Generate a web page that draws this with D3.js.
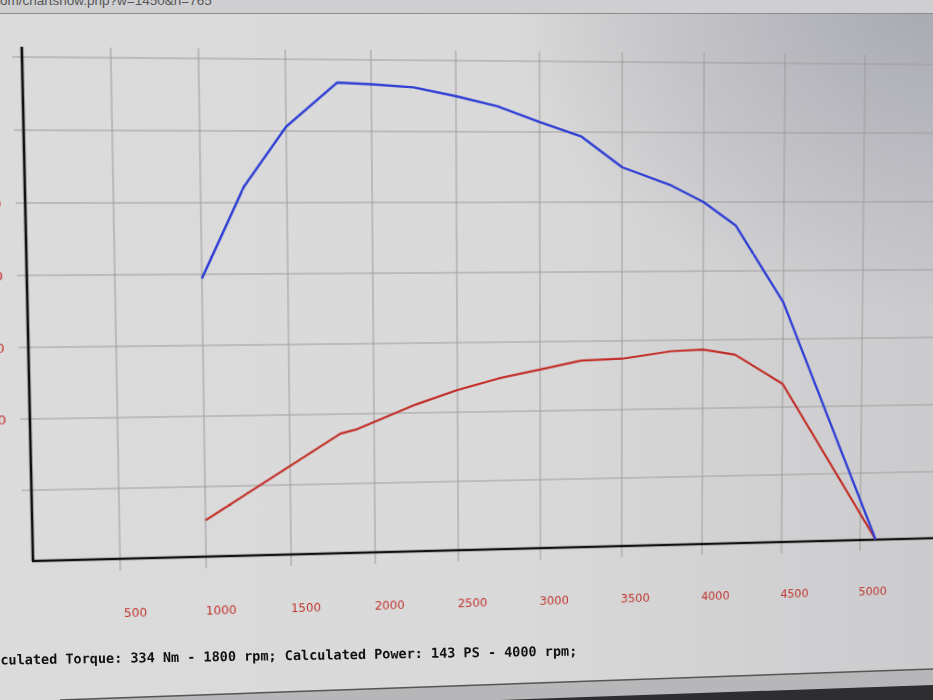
<!DOCTYPE html>
<html><head><meta charset="utf-8">
<script src="https://cdn.jsdelivr.net/npm/d3@7"></script>
<style>
html,body{margin:0;padding:0;width:933px;height:700px;overflow:hidden;background:#d6d6d6;}
#bg{position:absolute;left:0;top:0;}
#chart{position:absolute;left:0;top:0;transform-origin:0 0;overflow:visible;}
#fg{position:absolute;left:0;top:0;}
</style></head><body>
<svg id="bg" width="933" height="700"></svg>
<svg id="chart" width="1000" height="720"></svg>
<svg id="fg" width="933" height="700"></svg>
<script>
// ---- data ----
const rpmTicks = [500, 1000, 1500, 2000, 2500, 3000, 3500, 4000, 4500, 5000];
const rpmTickLabels = ["500", "1000", "1500", "2000", "2500", "3000", "3500", "4000", "4500", "5000"];
const yTicks = [0, 50, 100, 150, 200, 250, 300, 350];
const yTickLabels = ["0", "50", "100", "150", "200", "250", "300", "350"];
const torqueRpm = [1000, 1250, 1500, 1800, 2000, 2250, 2500, 2750, 3000, 3250, 3500, 3800, 4000, 4200, 4500, 5100];
const torqueNm  = [197, 261, 303, 334, 333, 331, 325, 318, 307, 297, 275, 262, 250, 233, 177, 0];
const powerRpm  = [1000, 1800, 1900, 2250, 2500, 2750, 3000, 3250, 3500, 3800, 4000, 4200, 4500, 5100];
const powerPS   = [26, 86, 89, 106, 116, 124, 130, 136, 137, 142, 143, 139, 117, 0];
const footerText = "Calculated Torque: 334 Nm - 1800 rpm; Calculated Power: 143 PS - 4000 rpm;";
const urlText = "om/chartshow.php?w=1450&h=765";

// ---- background (the photographed screen) ----
const bg = d3.select("#bg");
const defs = bg.append("defs");
const lg = defs.append("linearGradient").attr("id","lg").attr("x1","0").attr("x2","1").attr("y1","0").attr("y2","0");
lg.append("stop").attr("offset","0").attr("stop-color","#dbdbdb");
lg.append("stop").attr("offset","0.55").attr("stop-color","#d9d9d9");
lg.append("stop").attr("offset","1").attr("stop-color","#cbcbce");
const rg = defs.append("radialGradient").attr("id","rg").attr("cx","1").attr("cy","0").attr("r","0.45");
rg.append("stop").attr("offset","0").attr("stop-color","#9a9aa6").attr("stop-opacity",0.7);
rg.append("stop").attr("offset","1").attr("stop-color","#9a9aa6").attr("stop-opacity",0);
bg.append("rect").attr("width",933).attr("height",700).attr("fill","url(#lg)");
bg.append("rect").attr("width",933).attr("height",700).attr("fill","url(#rg)");
bg.append("rect").attr("width",933).attr("height",13).attr("fill","#cfcfd1");
bg.append("line").attr("x1",0).attr("x2",933).attr("y1",13.5).attr("y2",13.5).attr("stroke","#8c8c8c").attr("stroke-width",1);
bg.append("text").attr("x",0).attr("y",5).attr("font-family","Liberation Sans").attr("font-size",13.5).attr("fill","#555").text(urlText);
bg.append("polygon").attr("points","60,700 933,669 933,700").attr("fill","#b7b7b9");
bg.append("line").attr("x1",60).attr("y1",700).attr("x2",933).attr("y2",669).attr("stroke","#555").attr("stroke-width",1.5);
bg.append("polygon").attr("points","500,700 933,685 933,700").attr("fill","#2e2e30");

// ---- chart drawn flat, then projected like the photo ----
const svg = d3.select("#chart");
const x = d3.scaleLinear().domain([0, 5000]).range([33, 863]);
const y = d3.scaleLinear().domain([0, 350]).range([561, 57]);
const xRight = 1000;

const grid = svg.append("g").attr("stroke","#9d9d9d").attr("stroke-width",1);
grid.selectAll("line.h").data(yTicks.filter(d=>d>0)).join("line")
  .attr("x1", x(0)-9).attr("x2", xRight).attr("y1", d=>y(d)).attr("y2", d=>y(d));
grid.selectAll("line.v").data(rpmTicks).join("line")
  .attr("x1", d=>x(d)).attr("x2", d=>x(d)).attr("y1", 47).attr("y2", y(0)+12);

// axes
svg.append("line").attr("x1",x(0)).attr("x2",x(0)).attr("y1",47).attr("y2",y(0)).attr("stroke","#111").attr("stroke-width",2.6);
svg.append("line").attr("x1",x(0)-1).attr("x2",xRight).attr("y1",y(0)).attr("y2",y(0)).attr("stroke","#111").attr("stroke-width",2.6);

// y labels (mostly cut off at the left edge of the photo)
svg.append("g").selectAll("text").data(yTicks).join("text")
  .attr("x", x(0)-47).attr("y", d=>y(d)+5)
  .attr("font-family","DejaVu Sans").attr("font-size",13).attr("fill","#c0312b")
  .text((d,i)=>yTickLabels[i]);

// x labels
svg.append("g").selectAll("text").data(rpmTicks).join("text")
  .attr("x", d=>x(d)+14).attr("y", y(0)+60).attr("text-anchor","middle")
  .attr("font-family","DejaVu Sans Condensed, DejaVu Sans").attr("font-size",13).attr("fill","#c0312b")
  .text((d,i)=>rpmTickLabels[i]);

// curves
const line = d3.line().x(d=>x(d[0])).y(d=>y(d[1]));
svg.append("path").datum(powerRpm.map((r,i)=>[r,powerPS[i]]))
  .attr("d",line).attr("fill","none").attr("stroke","#c22c26").attr("stroke-width",2.2).attr("stroke-linejoin","round");
svg.append("path").datum(torqueRpm.map((r,i)=>[r,torqueNm[i]]))
  .attr("d",line).attr("fill","none").attr("stroke","#2f3ed4").attr("stroke-width",2.4).attr("stroke-linejoin","round");

// footer (on the screen, slightly tilted in the photo)
d3.select("#fg").append("text")
  .attr("transform","translate(-24,665) rotate(-0.9)")
  .attr("font-family","DejaVu Sans Mono").attr("font-weight","bold").attr("font-size",13.5).attr("fill","#111")
  .text(footerText);

// ---- perspective (homography from flat chart to photo) ----
function solve(A, b){
  const n=b.length, M=A.map((r,i)=>[...r,b[i]]);
  for(let c=0;c<n;c++){
    let p=c; for(let r=c+1;r<n;r++) if(Math.abs(M[r][c])>Math.abs(M[p][c])) p=r;
    [M[c],M[p]]=[M[p],M[c]];
    for(let r=0;r<n;r++){ if(r===c) continue; const f=M[r][c]/M[c][c]; for(let k=c;k<=n;k++) M[r][k]-=f*M[c][k]; }
  }
  return M.map((r,i)=>r[n]/r[i]);
}
const src=[[x(0),y(0)],[x(0),y(350)],[x(5000),y(0)],[x(5000),y(350)]];
const dst=[[33,561],[22,57],[860,540],[865,64]];
const A=[],B=[];
src.forEach(([sx,sy],i)=>{const [u,v]=dst[i];
  A.push([sx,sy,1,0,0,0,-u*sx,-u*sy]); B.push(u);
  A.push([0,0,0,sx,sy,1,-v*sx,-v*sy]); B.push(v);});
const [a,b,c,d,e,f,g,h]=solve(A,B);
document.getElementById("chart").style.transform=`matrix3d(${a},${d},0,${g},${b},${e},0,${h},0,0,1,0,${c},${f},0,1)`;
</script>
</body></html>
